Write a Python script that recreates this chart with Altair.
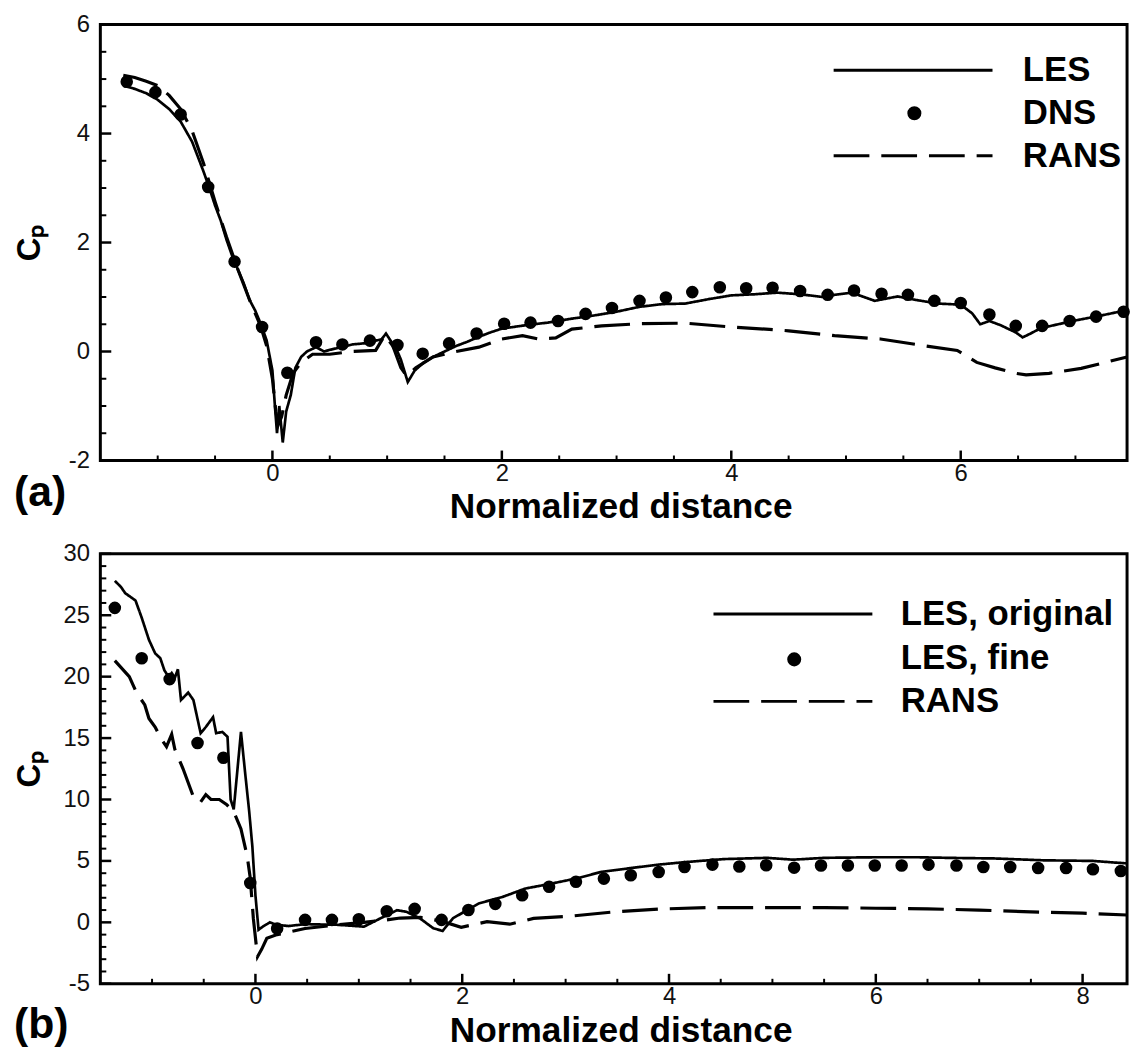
import altair as alt
import pandas as pd

FONT = "Liberation Sans"

# ---------------- panel (a) ----------------
a_les_x = [-1.3, -1.2, -1.1, -1.0, -0.9, -0.8, -0.7, -0.6, -0.55, -0.5,
           -0.45, -0.4, -0.35, -0.3, -0.25, -0.2, -0.15, -0.1, -0.05, 0.0,
           0.02, 0.04, 0.06, 0.09, 0.12, 0.16, 0.2, 0.25, 0.3, 0.38,
           0.45, 0.5, 0.6, 0.7, 0.8, 0.9, 0.95, 0.99, 1.03, 1.08,
           1.12, 1.18, 1.24, 1.32, 1.4, 1.5, 1.6, 1.7, 1.8, 1.9,
           2.0, 2.2, 2.4, 2.6, 2.8, 3.0, 3.2, 3.4, 3.6, 3.8,
           4.0, 4.2, 4.4, 4.6, 4.8, 4.9, 5.05, 5.25, 5.45, 5.6,
           5.8, 6.0, 6.1, 6.17, 6.25, 6.35, 6.48, 6.54, 6.6, 6.7,
           6.85, 7.0, 7.2, 7.45]
a_les_y = [4.88, 4.82, 4.74, 4.62, 4.45, 4.22, 3.85, 3.3, 3.0, 2.68,
           2.4, 2.05, 1.75, 1.5, 1.25, 0.95, 0.75, 0.5, 0.2, -0.35,
           -0.95, -1.5, -1.0, -1.67, -1.1, -0.8, -0.3, -0.1, 0.0, 0.08,
           0.0, 0.03, 0.08, 0.13, 0.15, 0.2, 0.22, 0.33, 0.2, 0.05,
           -0.15, -0.56, -0.35, -0.2, -0.1, 0.0, 0.1, 0.18, 0.27, 0.35,
           0.42, 0.48, 0.53, 0.6, 0.66, 0.73, 0.82, 0.87, 0.88, 0.96,
           1.03, 1.05, 1.08, 1.05, 1.0, 1.04, 1.08, 0.93, 1.01, 0.95,
           0.88, 0.86, 0.7, 0.5, 0.56, 0.48, 0.35, 0.26, 0.32, 0.43,
           0.5, 0.57, 0.65, 0.76]

a_dns_x = [-1.27, -1.02, -0.8, -0.56, -0.33, -0.09, 0.13, 0.38, 0.61, 0.85,
           1.09, 1.31, 1.54, 1.78, 2.02, 2.25, 2.49, 2.73, 2.96, 3.2,
           3.43, 3.66, 3.9, 4.13, 4.36, 4.6, 4.84, 5.07, 5.31, 5.54,
           5.77, 6.0, 6.25, 6.48, 6.71, 6.95, 7.18, 7.42]
a_dns_y = [4.95, 4.76, 4.35, 3.02, 1.65, 0.45, -0.39, 0.17, 0.13, 0.2,
           0.12, -0.04, 0.15, 0.33, 0.51, 0.53, 0.56, 0.69, 0.8, 0.93,
           0.99, 1.09, 1.18, 1.16, 1.17, 1.11, 1.04, 1.12, 1.06, 1.04,
           0.93, 0.89, 0.68, 0.47, 0.47, 0.56, 0.64, 0.73]

a_rans_x = [-1.3, -1.2, -1.1, -1.0, -0.9, -0.8, -0.7, -0.6, -0.5, -0.4,
            -0.3, -0.2, -0.1, -0.05, 0.0, 0.03, 0.05, 0.08, 0.12, 0.18,
            0.25, 0.35, 0.5, 0.7, 0.9, 0.98, 1.05, 1.12, 1.17, 1.25,
            1.4, 1.6, 1.8, 2.0, 2.18, 2.32, 2.47, 2.61, 2.87, 3.2,
            3.6, 4.0, 4.3, 4.5, 4.9, 5.3, 5.7, 5.97, 6.14, 6.3,
            6.48, 6.57, 6.77, 7.05, 7.45]
a_rans_y = [5.07, 5.03, 4.96, 4.88, 4.7, 4.45, 4.05, 3.45, 2.75, 2.1,
            1.5, 0.95, 0.45, 0.1, -0.5, -1.1, -1.35, -1.2, -0.8, -0.4,
            -0.2, -0.05, -0.05, 0.0, 0.02, 0.3, 0.1, -0.3, -0.45, -0.3,
            -0.1, 0.0, 0.08, 0.23, 0.29, 0.23, 0.25, 0.41, 0.47, 0.51,
            0.52, 0.45, 0.41, 0.38, 0.29, 0.23, 0.1, 0.02, -0.2, -0.3,
            -0.4, -0.43, -0.4, -0.31, -0.1]

a_labels = ["LES", "DNS", "RANS"]
a_xdomain = [-1.5, 7.45]
a_ydomain = [-2, 6]
a_xmajor = [0, 2, 4, 6]
a_xminor = [-1.0, -0.5, 0.5, 1.0, 1.5, 2.5, 3.0, 3.5, 4.5, 5.0, 5.5, 6.5, 7.0]
a_ymajor = [-2, 0, 2, 4, 6]
a_yminor = [-1.5, -1.0, -0.5, 0.5, 1.0, 1.5, 2.5, 3.0, 3.5, 4.5, 5.0, 5.5]

# ---------------- panel (b) ----------------
b_les_x = [-1.36, -1.3, -1.26, -1.16, -1.1, -1.03, -0.97, -0.92, -0.88, -0.84,
           -0.81, -0.78, -0.75, -0.72, -0.65, -0.6, -0.53, -0.48, -0.41, -0.38,
           -0.32, -0.27, -0.24, -0.21, -0.14, -0.1, -0.06, -0.03, 0.0, 0.03,
           0.08, 0.14, 0.2, 0.32, 0.48, 0.8, 1.05, 1.21, 1.37, 1.46,
           1.59, 1.72, 1.81, 1.91, 2.16, 2.39, 2.61, 2.86, 3.12, 3.34,
           3.66, 3.9, 4.15, 4.53, 4.95, 5.2, 5.5, 6.0, 6.4, 6.7,
           7.15, 7.62, 8.1, 8.34, 8.43]
b_les_y = [27.8, 27.3, 26.8, 26.2, 24.8, 23.0, 21.9, 21.5, 20.5, 20.0,
           20.3, 19.9, 20.6, 18.1, 18.7, 18.1, 15.4, 15.9, 16.7, 15.4,
           15.5, 15.1, 10.0, 9.2, 15.5, 12.2, 9.0, 6.2, 2.2, -0.6,
           -0.3, 0.0, -0.2, -0.3, -0.15, -0.2, -0.35, 0.33, 0.99, 0.86,
           0.33, -0.48, -0.7, 0.33, 1.54, 2.07, 2.75, 3.15, 3.6, 4.1,
           4.45, 4.7, 4.9, 5.15, 5.25, 5.1, 5.25, 5.3, 5.3, 5.25,
           5.2, 5.05, 5.0, 4.85, 4.8]

b_fine_x = [-1.36, -1.1, -0.83, -0.56, -0.31, -0.05, 0.21, 0.48, 0.74, 1.0,
            1.27, 1.54, 1.8, 2.06, 2.32, 2.58, 2.84, 3.1, 3.37, 3.63,
            3.9, 4.15, 4.42, 4.68, 4.94, 5.21, 5.47, 5.73, 5.99, 6.25,
            6.51, 6.78, 7.04, 7.3, 7.57, 7.84, 8.1, 8.37]
b_fine_y = [25.6, 21.5, 19.8, 14.6, 13.4, 3.2, -0.5, 0.2, 0.2, 0.25,
            0.9, 1.1, 0.2, 1.0, 1.5, 2.2, 2.9, 3.3, 3.56, 3.83,
            4.1, 4.5, 4.7, 4.55, 4.65, 4.45, 4.63, 4.63, 4.63, 4.63,
            4.7, 4.63, 4.5, 4.5, 4.42, 4.42, 4.32, 4.18]

b_rans_x = [-1.36, -1.22, -1.15, -1.07, -1.03, -0.97, -0.91, -0.86, -0.81, -0.78,
            -0.7, -0.59, -0.53, -0.48, -0.43, -0.35, -0.28, -0.21, -0.14, -0.08,
            -0.05, -0.02, 0.02, 0.06, 0.11, 0.21, 0.48, 0.8, 1.05, 1.27,
            1.4, 1.6, 1.8, 1.99, 2.24, 2.46, 2.69, 3.04, 3.48, 3.9,
            4.37, 4.85, 5.5, 6.0, 6.5, 7.0, 7.5, 8.0, 8.43]
b_rans_y = [21.3, 20.0, 18.7, 17.7, 16.6, 15.9, 14.9, 14.3, 15.3, 14.1,
            12.5, 10.0, 9.8, 10.4, 10.0, 10.0, 9.6, 9.0, 7.6, 5.4,
            3.6, 0.3, -2.8, -2.2, -1.3, -1.0, -0.5, -0.2, 0.0, 0.2,
            0.35, 0.4, 0.1, -0.4, 0.05, -0.15, 0.32, 0.5, 0.86, 1.08,
            1.2, 1.2, 1.2, 1.15, 1.1, 1.0, 0.85, 0.75, 0.6]

b_labels = ["LES, original", "LES, fine", "RANS"]
b_xdomain = [-1.5, 8.43]
b_ydomain = [-5, 30]
b_xmajor = [0, 2, 4, 6, 8]
b_xminor = [-1.0, -0.5, 0.5, 1.0, 1.5, 2.5, 3.0, 3.5, 4.5, 5.0, 5.5,
            6.5, 7.0, 7.5]
b_ymajor = [-5, 0, 5, 10, 15, 20, 25, 30]
b_yminor = [-4, -3, -2, -1, 1, 2, 3, 4, 6, 7, 8, 9, 11, 12, 13, 14,
            16, 17, 18, 19, 21, 22, 23, 24, 26, 27, 28, 29]

W = 1034


def panel(les_x, les_y, pt_x, pt_y, rans_x, rans_y, labels, xdom, ydom,
          xmajor, xminor, ymajor, yminor, H, tag, leg, dot, xtitle_y, tag_offset):
    les = pd.DataFrame({"x": les_x, "y": les_y, "series": labels[0]})
    rans = pd.DataFrame({"x": rans_x, "y": rans_y, "series": labels[2]})
    pts = pd.DataFrame({"x": pt_x, "y": pt_y, "pt": labels[1]})

    xs = alt.Scale(domain=xdom, nice=False, zero=False)
    ys = alt.Scale(domain=ydom, nice=False, zero=False)
    dash = alt.Scale(domain=labels, range=[[1, 0], [0, 1000], [36, 12]])

    line_legend = alt.Legend(
        title=None, orient="none", legendX=leg[0], legendY=leg[1],
        symbolType="stroke", symbolSize=25600, symbolStrokeWidth=3,
        symbolStrokeColor="black", labelFont=FONT, labelFontSize=35,
        labelFontWeight="bold", labelColor="black", labelOffset=leg[2],
        rowPadding=leg[3], clipHeight=40, padding=0, labelLimit=0)
    dot_legend = alt.Legend(
        title=None, orient="none", legendX=dot[0], legendY=dot[1],
        symbolSize=200, symbolFillColor="black", symbolStrokeWidth=0,
        labelExpr="''", labelFontSize=1, clipHeight=20, padding=0)

    x_axis = alt.Axis(values=xmajor, ticks=False, tickSize=0, domain=False, grid=False,
                      labelFont=FONT, labelFontSize=24, labelColor="#111",
                      labelPadding=1, labelExpr="'' + datum.value",
                      title="Normalized distance",
                      titleFont=FONT, titleFontSize=35.5, titleFontWeight="bold",
                      titleColor="black", titleX=524, titleY=xtitle_y,
                      titleAlign="center", titleBaseline="alphabetic")
    y_axis = alt.Axis(values=ymajor, ticks=False, tickSize=0, domain=False, grid=False,
                      labelFont=FONT, labelFontSize=24, labelColor="#111",
                      labelPadding=11, labelExpr="'' + datum.value",
                      title="C\u209a", titleFont=FONT,
                      titleFontSize=33, titleFontWeight="bold", titleColor="black",
                      titleAngle=270, titleX=-61, titleY=H / 2,
                      titleAlign="center", titleBaseline="alphabetic")
    X = alt.X("x:Q", scale=xs, axis=x_axis)
    Y = alt.Y("y:Q", scale=ys, axis=y_axis)

    les_layer = alt.Chart(les).mark_line(color="black", strokeWidth=2.7).encode(
        x=X, y=Y,
        strokeDash=alt.StrokeDash("series:N", scale=dash, legend=line_legend),
        order=alt.Order("x:Q"),
    )
    rans_layer = alt.Chart(rans).mark_line(color="black", strokeWidth=3.2).encode(
        x=X, y=Y,
        strokeDash=alt.StrokeDash("series:N", scale=dash, legend=line_legend),
        order=alt.Order("x:Q"),
    )
    pt_layer = alt.Chart(pts).mark_point(filled=True, shape="circle", size=160,
                                         color="black", opacity=1).encode(
        x=X, y=Y,
        shape=alt.Shape("pt:N", scale=alt.Scale(domain=[labels[1]], range=["circle"]),
                        legend=dot_legend),
    )
    # inward ticks, placed through the panel's own scales
    xmaj = alt.Chart(pd.DataFrame({"x": xmajor})).mark_rule(
        color="black", strokeWidth=2.5).encode(x=X, y=alt.value(H), y2=alt.value(H - 10))
    xmin = alt.Chart(pd.DataFrame({"x": xminor})).mark_rule(
        color="black", strokeWidth=2).encode(x=X, y=alt.value(H), y2=alt.value(H - 5))
    ymaj = alt.Chart(pd.DataFrame({"y": ymajor})).mark_rule(
        color="black", strokeWidth=2.5).encode(y=Y, x=alt.value(0), x2=alt.value(11))
    ymin = alt.Chart(pd.DataFrame({"y": yminor})).mark_rule(
        color="black", strokeWidth=2).encode(y=Y, x=alt.value(0), x2=alt.value(6))

    return alt.layer(les_layer, rans_layer, pt_layer, xmaj, xmin, ymaj, ymin).properties(
        width=W, height=H,
        title=alt.TitleParams(tag, orient="bottom", anchor="start", frame="group",
                              dx=-87, offset=tag_offset, font=FONT, fontSize=43,
                              fontWeight="bold", color="black"),
    )


top = panel(a_les_x, a_les_y, a_dns_x, a_dns_y, a_rans_x, a_rans_y, a_labels,
            a_xdomain, a_ydomain, a_xmajor, a_xminor, a_ymajor, a_yminor, 439,
            "(a)", (737, 26.1, 29, 3), (812.3, 79.3), 57, -53)
bottom = panel(b_les_x, b_les_y, b_fine_x, b_fine_y, b_rans_x, b_rans_y, b_labels,
               b_xdomain, b_ydomain, b_xmajor, b_xminor, b_ymajor, b_yminor, 433,
               "(b)", (616, 40.6, 27, 4), (691.3, 96.3), 58, -45)

chart = alt.vconcat(top, bottom, spacing=14).resolve_scale(
    strokeDash="independent", shape="independent"
).resolve_legend(
    strokeDash="independent", shape="independent"
).properties(
    padding={"left": 4, "top": -1, "right": 0, "bottom": -6}
).configure_view(stroke="black", strokeWidth=3)

chart.save("out.html", embed_options={"renderer": "svg", "actions": False})
